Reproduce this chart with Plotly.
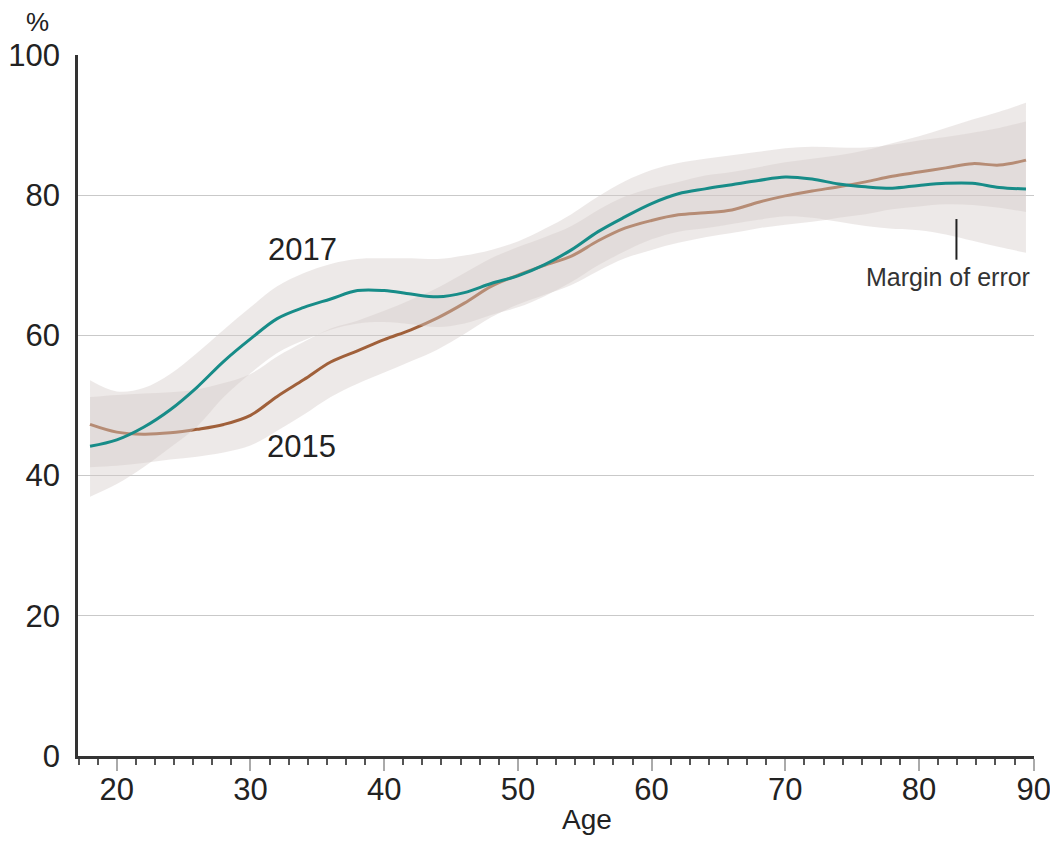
import plotly.graph_objects as go

ages = [18, 20, 22, 24, 26, 28, 30, 32, 34, 36, 38, 40, 42, 44, 46, 48, 50, 52,
        54, 56, 58, 60, 62, 64, 66, 68, 70, 72, 74, 76, 78, 80, 82, 84, 86, 88]

y2017 = [44.2, 45.1, 46.9, 49.4, 52.6, 56.3, 59.5, 62.4, 64.0, 65.2, 66.4, 66.4,
         65.9, 65.5, 66.1, 67.4, 68.5, 70.1, 72.2, 74.8, 76.9, 78.8, 80.2, 80.9,
         81.5, 82.1, 82.6, 82.3, 81.6, 81.2, 81.0, 81.4, 81.7, 81.7, 81.1, 80.9]
up2017 = [53.6, 52.0, 52.5, 54.5, 57.5, 60.8, 64.0, 67.0, 68.9, 70.2, 70.9, 71.0,
          71.0, 70.9, 71.4, 72.2, 73.4, 75.2, 77.3, 79.8, 82.0, 83.6, 84.6, 85.2,
          85.7, 86.2, 86.7, 86.9, 86.8, 86.8, 87.2, 87.8, 88.3, 88.9, 89.6, 90.5]
lo2017 = [37.0, 38.8, 41.2, 44.0, 47.0, 51.2, 54.6, 57.5, 59.3, 60.8, 61.7, 61.9,
          61.6, 61.2, 61.7, 62.9, 64.0, 65.6, 67.6, 70.0, 72.0, 73.7, 74.8, 75.3,
          75.9, 76.5, 77.0, 76.8, 76.2, 75.6, 75.2, 75.0, 74.4, 73.5, 72.6, 71.8]

y2015 = [47.3, 46.2, 45.9, 46.1, 46.6, 47.3, 48.6, 51.3, 53.7, 56.2, 57.8, 59.4,
         60.8, 62.5, 64.6, 67.0, 68.6, 70.0, 71.3, 73.5, 75.3, 76.4, 77.2, 77.5,
         77.9, 79.0, 79.9, 80.6, 81.2, 81.9, 82.7, 83.3, 83.9, 84.5, 84.3, 85.0]
up2015 = [51.2, 51.5, 51.7, 51.9, 52.3, 53.2, 54.5, 57.0, 59.1, 61.0, 62.1, 63.5,
          65.1, 66.8, 68.9, 71.0, 72.6, 74.0, 75.6, 77.9, 79.8, 81.0, 81.9, 82.8,
          83.3, 84.0, 84.7, 85.2, 85.7, 86.4, 87.4, 88.4, 89.6, 90.8, 91.9, 93.2]
lo2015 = [41.2, 41.4, 41.8, 42.3, 42.7, 43.3, 44.3, 46.4, 48.7, 51.2, 53.1, 54.7,
          56.3, 58.0, 60.2, 62.6, 64.4, 65.8, 67.2, 69.2, 71.0, 72.2, 73.2, 74.0,
          74.6, 75.3, 75.8, 76.2, 76.8, 77.3, 78.0, 78.4, 78.7, 78.6, 78.2, 77.6]

x_tick_labels = ["20", "30", "40", "50", "60", "70", "80", "90"]
x_tick_vals = [20, 30, 40, 50, 60, 70, 80, 20 + 48 * 10 / 7]
y_ticks = [0, 20, 40, 60, 80, 100]

FONT = "Liberation Sans, Arial, Helvetica, sans-serif"
BAND = "rgba(212,202,200,0.42)"
TEAL = "#178c88"
BROWN = "#a0603a"

fig = go.Figure()

def band(upper, lower):
    fig.add_trace(go.Scatter(x=ages, y=upper, mode="lines", line=dict(width=0, shape="spline"),
                             hoverinfo="skip", showlegend=False))
    fig.add_trace(go.Scatter(x=ages, y=lower, mode="lines", line=dict(width=0, shape="spline"),
                             fill="tonexty", fillcolor=BAND, hoverinfo="skip", showlegend=False))

band(up2015, lo2015)
fig.add_trace(go.Scatter(x=ages, y=y2015, mode="lines", name="2015",
                         line=dict(color=BROWN, width=3, shape="spline"), showlegend=False))
band(up2017, lo2017)
fig.add_trace(go.Scatter(x=ages, y=y2017, mode="lines", name="2017",
                         line=dict(color=TEAL, width=3, shape="spline"), showlegend=False))

fig.add_annotation(x=33.9, y=72.3, text="2017", showarrow=False,
                   font=dict(size=31, color="#222", family=FONT))
fig.add_annotation(x=33.8, y=44.2, text="2015", showarrow=False,
                   font=dict(size=31, color="#222", family=FONT))
fig.add_annotation(x=82.2, y=68.4, text="Margin of error", showarrow=False,
                   font=dict(size=25, color="#333", family=FONT))
fig.add_shape(type="line", x0=82.8, x1=82.8, y0=76.6, y1=70.8, xref="x", yref="y",
              line=dict(color="#222", width=2))
fig.add_annotation(xref="paper", yref="paper", x=-0.042, y=1.047, text="%", showarrow=False,
                   xanchor="center", yanchor="middle",
                   font=dict(size=26, color="#222", family=FONT))
fig.add_annotation(xref="x", yref="paper", x=55.2, y=-0.09, text="Age", showarrow=False,
                   xanchor="center", yanchor="middle",
                   font=dict(size=28, color="#222", family=FONT))

fig.update_layout(
    width=1050, height=828, autosize=False,
    margin=dict(l=70, r=24, t=47, b=80),
    paper_bgcolor="white", plot_bgcolor="white",
    font=dict(family=FONT, color="#222"),
    showlegend=False,
)
fig.update_xaxes(
    range=[17.1, 88.6], tickmode="array", tickvals=x_tick_vals, ticktext=x_tick_labels,
    ticks="outside", ticklen=12, tickwidth=1.5, tickcolor="#aaa",
    ticklabelstandoff=-8, automargin=False,
    tickfont=dict(size=31, color="#222", family=FONT),
    showgrid=False, zeroline=False,
    showline=True, linecolor="#333", linewidth=2.5,
    minor=dict(ticks="outside", ticklen=6, tickwidth=1.5, tickcolor="#555",
               tick0=20, dtick=10 / 7, showgrid=False),
)
fig.update_yaxes(
    range=[0, 100], tickmode="array", tickvals=y_ticks,
    ticks="", ticklabelstandoff=9, automargin=False,
    tickfont=dict(size=31, color="#222", family=FONT),
    showgrid=True, gridcolor="#c9c9c9", gridwidth=1, zeroline=False,
    showline=True, linecolor="#333", linewidth=2.5,
)

fig.write_html("out.html")
